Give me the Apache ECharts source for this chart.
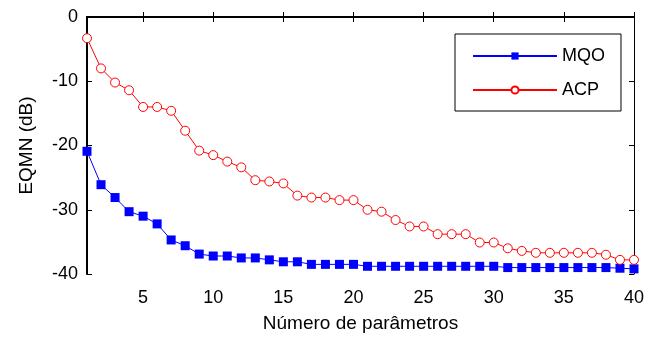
<!DOCTYPE html>
<html>
<head>
<meta charset="utf-8">
<script src="https://cdn.jsdelivr.net/npm/echarts@6/dist/echarts.min.js"></script>
<style>
  html, body { margin: 0; padding: 0; background: #fff; }
  #chart { width: 645px; height: 337px; }
</style>
</head>
<body>
<div id="chart"></div>
<script>
// número de parâmetros 1..40
const params = Array.from({ length: 40 }, (_, i) => i + 1);
const xTicks = [5, 10, 15, 20, 25, 30, 35, 40];

// EQMN (dB)
const mqo = [-20.9, -26.1, -28.1, -30.3, -31.0, -32.2, -34.7, -35.6, -36.9, -37.2,
  -37.2, -37.5, -37.5, -37.8, -38.1, -38.1, -38.5, -38.5, -38.5, -38.5,
  -38.8, -38.8, -38.8, -38.8, -38.8, -38.8, -38.8, -38.8, -38.8, -38.8,
  -39.0, -39.0, -39.0, -39.0, -39.0, -39.0, -39.0, -39.0, -39.1, -39.2];
const acp = [-3.3, -8.0, -10.2, -11.4, -14.0, -14.0, -14.6, -17.7, -20.8, -21.5,
  -22.5, -23.4, -25.4, -25.6, -25.9, -27.8, -28.1, -28.1, -28.5, -28.5,
  -30.0, -30.3, -31.6, -32.6, -32.6, -33.8, -33.8, -33.8, -35.1, -35.1,
  -36.0, -36.4, -36.7, -36.7, -36.7, -36.7, -36.7, -37.0, -37.8, -37.8];

const font = 'Liberation Sans, Arial, sans-serif';
const chart = echarts.init(document.getElementById('chart'));

const pairs = arr => arr.map((v, i) => [params[i], v]);

chart.setOption({
  animation: false,
  textStyle: { fontFamily: font },
  grid: { left: 87, right: 11, top: 17, bottom: 63, outerBoundsMode: 'none' },
  legend: {
    orient: 'vertical',
    left: 455,
    top: 34,
    padding: [13, 16, 12, 17],
    itemGap: 16,
    itemWidth: 84,
    itemHeight: 9,
    borderColor: '#000',
    borderWidth: 1,
    backgroundColor: '#fff',
    textStyle: { fontFamily: font, fontSize: 18, color: '#000' },
    data: ['MQO', 'ACP']
  },
  xAxis: [
    {
      type: 'value', min: 1, max: 40,
      name: 'Número de parâmetros', nameLocation: 'middle', nameGap: 40,
      nameTextStyle: { fontSize: 19, color: '#000' },
      axisLine: { lineStyle: { color: '#000', width: 2 } },
      axisTick: { inside: true, length: 5, customValues: xTicks, lineStyle: { color: '#000' } },
      axisLabel: { customValues: xTicks, fontSize: 18, color: '#000', margin: 15 },
      splitLine: { show: false }
    },
    {
      type: 'value', min: 1, max: 40, position: 'top',
      axisLine: { lineStyle: { color: '#000', width: 2 } },
      axisTick: { inside: true, length: 5, customValues: xTicks, lineStyle: { color: '#000' } },
      axisLabel: { show: false },
      splitLine: { show: false }
    }
  ],
  yAxis: [
    {
      type: 'value', min: -40, max: 0, interval: 10,
      name: 'EQMN (dB)', nameLocation: 'middle', nameGap: 51,
      nameTextStyle: { fontSize: 19, color: '#000' },
      axisLine: { show: true, lineStyle: { color: '#000', width: 2 } },
      axisTick: { show: true, inside: true, length: 5, lineStyle: { color: '#000' } },
      axisLabel: { fontSize: 18, color: '#000', margin: 9 },
      splitLine: { show: false }
    },
    {
      type: 'value', min: -40, max: 0, interval: 10, position: 'right',
      axisLine: { show: true, lineStyle: { color: '#000', width: 1 } },
      axisTick: { show: true, inside: true, length: 5, lineStyle: { color: '#000' } },
      axisLabel: { show: false },
      splitLine: { show: false }
    }
  ],
  series: [
    {
      name: 'MQO', type: 'line', data: pairs(mqo),
      symbol: 'rect', symbolSize: 9,
      lineStyle: { color: '#0000ff', width: 1 },
      itemStyle: { color: '#0000ff', borderWidth: 0 }
    },
    {
      name: 'ACP', type: 'line', data: pairs(acp),
      symbol: 'circle', symbolSize: 9,
      lineStyle: { color: '#ff0000', width: 1 },
      itemStyle: { color: '#fff', borderColor: '#ff0000', borderWidth: 1 }
    }
  ]
});
</script>
</body>
</html>
